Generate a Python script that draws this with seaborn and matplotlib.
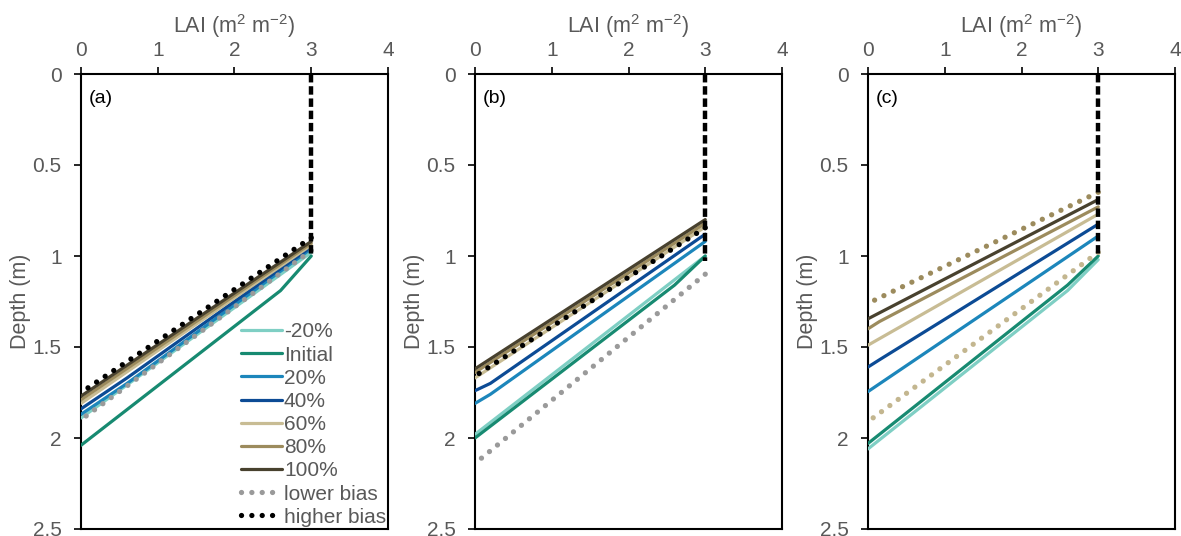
import matplotlib
matplotlib.use("Agg")
import matplotlib.pyplot as plt
import seaborn as sns
import pandas as pd

sns.set_theme(style="white")
plt.rcParams["font.family"] = ["Liberation Sans", "DejaVu Sans"]
plt.rcParams["mathtext.fontset"] = "custom"
plt.rcParams["mathtext.rm"] = "Liberation Sans"

# Series names in legend order
series = ["-20%", "Initial", "20%", "40%", "60%", "80%", "100%", "lower bias", "higher bias"]

# LAI (m2 m-2) and depth (m) vertices of each profile, panel (a)
a_lai = {
    "-20%": [3, 0], "Initial": [3, 2.6, 0], "20%": [3, 0.6, 0], "40%": [3, 0.6, 0],
    "60%": [3, 0], "80%": [3, 0], "100%": [3, 0], "lower bias": [3, 0], "higher bias": [3, 0],
}
a_depth = {
    "-20%": [0.98, 1.89], "Initial": [1.00, 1.19, 2.04], "20%": [0.96, 1.70, 1.87],
    "40%": [0.95, 1.67, 1.84], "60%": [0.94, 1.81], "80%": [0.93, 1.79], "100%": [0.92, 1.77],
    "lower bias": [0.97, 1.90], "higher bias": [0.90, 1.75],
}

# panel (b)
b_lai = {
    "-20%": [3, 0], "Initial": [3, 2.6, 0], "20%": [3, 0.2, 0], "40%": [3, 0.2, 0],
    "60%": [3, 0], "80%": [3, 0], "100%": [3, 0], "lower bias": [3, 0], "higher bias": [3, 0],
}
b_depth = {
    "-20%": [1.00, 1.98], "Initial": [1.00, 1.16, 2.00], "20%": [0.92, 1.76, 1.81],
    "40%": [0.88, 1.70, 1.74], "60%": [0.84, 1.67], "80%": [0.82, 1.64], "100%": [0.80, 1.62],
    "lower bias": [1.10, 2.14], "higher bias": [0.845, 1.66],
}

# panel (c)
c_lai = {
    "-20%": [3, 2.6, 0], "Initial": [3, 2.6, 0], "20%": [3, 0], "40%": [3, 0.15, 0],
    "60%": [3, 0], "80%": [3, 0.15, 0], "100%": [3, 0], "lower bias": [3, 0], "higher bias": [3, 0],
}
c_depth = {
    "-20%": [1.02, 1.19, 2.06], "Initial": [1.00, 1.16, 2.03], "20%": [0.89, 1.745],
    "40%": [0.825, 1.57, 1.61], "60%": [0.77, 1.49], "80%": [0.73, 1.36, 1.40], "100%": [0.69, 1.345],
    "lower bias": [0.98, 1.91], "higher bias": [0.65, 1.26],
}

# vertical LAI = 3 segment at the top of each profile
top_lai = [3, 3]
top_depth = {"a": [0, 1.00], "b": [0, 1.03], "c": [0, 1.00]}

panel_ids = ["a", "b", "c"]
xticks = [0, 1, 2, 3, 4]
yticks = [0, 0.5, 1, 1.5, 2, 2.5]
ytick_labels = ["0", "0.5", "1", "1.5", "2", "2.5"]

colors = {
    "-20%": "#7fcfc4", "Initial": "#178a71", "20%": "#1c86bb", "40%": "#0c4b95",
    "60%": "#c8bc94", "80%": "#9c8b5d", "100%": "#48412e",
}
bias_colors = {
    "a": {"lower bias": "#9a9a9a", "higher bias": "#000000"},
    "b": {"lower bias": "#9a9a9a", "higher bias": "#000000"},
    "c": {"lower bias": "#c3b68f", "higher bias": "#9c8b5d"},
}

label_grey = "#595959"
fig = plt.figure(figsize=(11.81, 5.36), dpi=100)
lefts = [81 / 1181, 475 / 1181, 868 / 1181]
width, height, bottom = 307 / 1181, 455 / 536, 7 / 536

panel_data = {"a": (a_lai, a_depth), "b": (b_lai, b_depth), "c": (c_lai, c_depth)}

for pid, left in zip(panel_ids, lefts):
    ax = fig.add_axes([left, bottom, width, height])
    lai, depth = panel_data[pid]
    for name in series:
        df = pd.DataFrame({"LAI": lai[name], "Depth": depth[name]})
        if "bias" in name:
            sns.lineplot(data=df, x="LAI", y="Depth", ax=ax, sort=False, estimator=None,
                         color=bias_colors[pid][name], lw=3.8, linestyle=(0, (0.01, 1.95)),
                         dash_capstyle="round", label=name, zorder=4)
        else:
            sns.lineplot(data=df, x="LAI", y="Depth", ax=ax, sort=False, estimator=None,
                         color=colors[name], lw=2.3, label=name, zorder=3)
    vdf = pd.DataFrame({"LAI": top_lai, "Depth": top_depth[pid]})
    sns.lineplot(data=vdf, x="LAI", y="Depth", ax=ax, sort=False, estimator=None,
                 color="black", lw=3.2, linestyle=(0, (1.9, 0.85)), zorder=5)

    ax.set_xlim(0, 4)
    ax.set_ylim(2.5, 0)
    ax.xaxis.tick_top()
    ax.xaxis.set_label_position("top")
    ax.set_xticks(xticks)
    ax.set_yticks(yticks)
    ax.set_yticklabels(ytick_labels)
    ax.tick_params(axis="both", direction="out", length=5, width=1.2, color="black",
                   labelsize=15, labelcolor=label_grey)
    ax.tick_params(axis="x", pad=5, top=True, bottom=False)
    ax.tick_params(axis="y", pad=9, left=True)
    ax.set_xlabel("LAI (m$^{\\mathregular{2}}$ m$^{\\mathregular{-2}}$)", fontsize=15.5,
                  color=label_grey, labelpad=5.5)
    ax.set_ylabel("Depth (m)", fontsize=15.5, color=label_grey)
    ax.yaxis.set_label_coords(-0.163, 0.5)
    for sp in ax.spines.values():
        sp.set_visible(True)
        sp.set_color("black")
        sp.set_linewidth(1.5)
    ax.text(0.025, 0.965, f"({pid})", transform=ax.transAxes, fontsize=14,
            color="black", ha="left", va="top")

    if pid == "a":
        handles, labels = ax.get_legend_handles_labels()
        ax.legend(handles[:len(series)], labels[:len(series)], loc="lower left",
                  bbox_to_anchor=(0.522, 0.005), frameon=False, fontsize=15,
                  handlelength=1.95, handletextpad=0.1, labelspacing=0.2,
                  borderpad=0.0, borderaxespad=0.0, labelcolor=label_grey)
    else:
        leg = ax.get_legend()
        if leg is not None:
            leg.remove()

fig.savefig("out.png", dpi=100)
